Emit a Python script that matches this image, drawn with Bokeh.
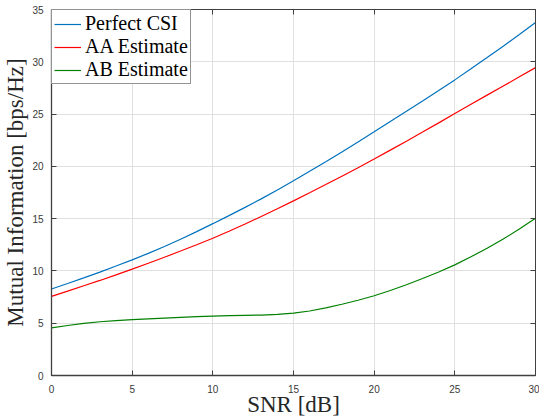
from bokeh.plotting import figure
from bokeh.models import Range1d, LinearAxis, SingleIntervalTicker, Legend, LegendItem
from bokeh.embed import file_html
from bokeh.resources import INLINE

snr_db = list(range(0, 31))
perfect_csi = [8.27, 8.80, 9.34, 9.89, 10.47, 11.06, 11.68, 12.33, 13.03, 13.76,
               14.52, 15.29, 16.08, 16.89, 17.74, 18.63, 19.53, 20.44, 21.37, 22.32,
               23.30, 24.28, 25.26, 26.25, 27.25, 28.27, 29.33, 30.40, 31.49, 32.61, 33.76]
aa_estimate = [7.57, 8.07, 8.58, 9.09, 9.62, 10.17, 10.73, 11.31, 11.90, 12.50,
               13.12, 13.80, 14.49, 15.20, 15.94, 16.70, 17.47, 18.26, 19.06, 19.87,
               20.70, 21.55, 22.41, 23.28, 24.16, 25.05, 25.93, 26.81, 27.68, 28.56, 29.44]
ab_estimate = [4.55, 4.78, 4.98, 5.14, 5.25, 5.34, 5.42, 5.49, 5.56, 5.63,
               5.68, 5.72, 5.75, 5.78, 5.85, 5.96, 6.17, 6.46, 6.81, 7.20,
               7.63, 8.13, 8.68, 9.27, 9.90, 10.58, 11.35, 12.17, 13.05, 14.00, 15.03]
series_names = ["Perfect CSI", "AA Estimate", "AB Estimate"]
series_colors = ["#0072BD", "#FF0000", "#008000"]
x_label = "SNR [dB]"
y_label = "Mutual Information [bps/Hz]"

AX = "#404040"
SERIF = "Liberation Serif"
SANS = "Liberation Sans"

p = figure(width=539, height=419, output_backend="svg", toolbar_location=None,
           x_range=Range1d(0, 30), y_range=Range1d(0, 35),
           min_border_left=50, min_border_right=4, min_border_top=9, min_border_bottom=42)

p.background_fill_color = "white"
p.border_fill_color = "white"
p.outline_line_color = AX
p.outline_line_width = 1

for ax in (p.xaxis[0], p.yaxis[0]):
    ax.ticker = SingleIntervalTicker(interval=5)
    ax.major_tick_in = 5
    ax.major_tick_out = 0
    ax.minor_tick_line_color = None
    ax.axis_line_color = AX
    ax.axis_line_width = 1.3
    ax.major_tick_line_color = AX
    ax.major_label_text_font = SANS
    ax.major_label_text_font_size = "10px"
    ax.major_label_text_color = "#3a3a3a"
    ax.axis_label_text_font = SERIF
    ax.axis_label_text_font_size = "23px"
    ax.axis_label_text_font_style = "normal"
    ax.axis_label_text_color = "#262626"

p.xaxis[0].axis_label = x_label
p.yaxis[0].axis_label = y_label
p.xaxis[0].major_label_standoff = 5
p.xaxis[0].axis_label_standoff = -4
p.yaxis[0].major_label_standoff = 4
p.yaxis[0].axis_label_standoff = 1

for loc in ("above", "right"):
    ax = LinearAxis(ticker=SingleIntervalTicker(interval=5),
                    major_tick_in=5, major_tick_out=0,
                    minor_tick_line_color=None,
                    axis_line_color=AX, major_tick_line_color=AX,
                    major_label_text_font_size="0px", major_label_standoff=0,
                    major_label_text_color=None)
    p.add_layout(ax, loc)

p.xgrid.ticker = SingleIntervalTicker(interval=5)
p.ygrid.ticker = SingleIntervalTicker(interval=5)
p.xgrid.grid_line_color = "#e0e0e0"
p.ygrid.grid_line_color = "#e0e0e0"

items = []
for name, ys, col in zip(series_names, [perfect_csi, aa_estimate, ab_estimate], series_colors):
    r = p.line(snr_db, ys, line_color=col, line_width=1.2)
    items.append(LegendItem(label=name, renderers=[r]))

legend = Legend(items=items, location="top_left", margin=0, padding=2, spacing=-3,
                glyph_width=27, glyph_height=20, label_height=20, label_standoff=4,
                label_text_font=SERIF, label_text_font_size="20px",
                label_text_color="black",
                border_line_color="#262626", border_line_width=1,
                background_fill_color="white", background_fill_alpha=1)
p.add_layout(legend, "center")

open("out.html", "w").write(file_html(p, INLINE))
